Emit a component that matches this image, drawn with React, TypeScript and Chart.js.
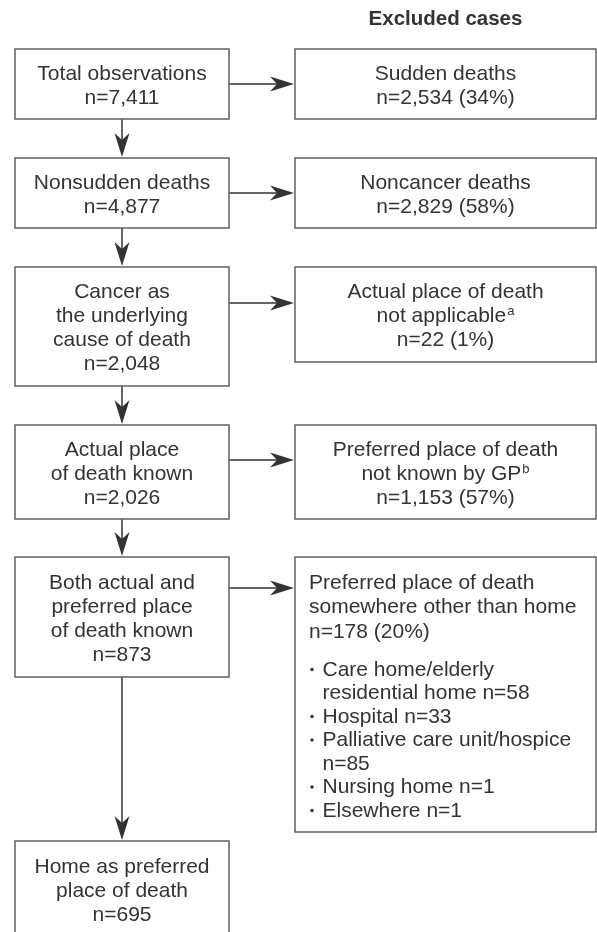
import React, { useEffect, useRef } from "react";
import { Chart, registerables } from "chart.js";

Chart.register(...registerables);

// ---------- data ----------
const columnTitle = "Excluded cases";
const includedLabels = [
  "Total observations",
  "Nonsudden deaths",
  "Cancer as\nthe underlying\ncause of death",
  "Actual place\nof death known",
  "Both actual and\npreferred place\nof death known",
  "Home as preferred\nplace of death",
];
const includedCounts = [7411, 4877, 2048, 2026, 873, 695];
const excludedLabels = [
  "Sudden deaths",
  "Noncancer deaths",
  "Actual place of death\nnot applicable^a",
  "Preferred place of death\nnot known by GP^b",
  "Preferred place of death\nsomewhere other than home",
];
const excludedCounts = [2534, 2829, 22, 1153, 178];
const excludedPercents = [34, 58, 1, 57, 20];
const otherPlaceLabels = [
  "Care home/elderly\nresidential home",
  "Hospital",
  "Palliative care unit/hospice\n",
  "Nursing home",
  "Elsewhere",
];
const otherPlaceCounts = [58, 33, 85, 1, 1];

// ---------- layout (scale units) ----------
const W = 597;
const H = 932;
const LEFT_X = [15, 229];
const RIGHT_X = [295, 596];
const LEFT_ROWS = [
  [49, 119],
  [158, 228],
  [267, 386],
  [425, 519],
  [557, 677],
  [841, 990],
];
const RIGHT_ROWS = [
  [49, 119],
  [158, 228],
  [267, 362],
  [425, 519],
  [557, 832],
];
const ARROW_Y = [84, 193, 303, 460, 588];

const FONT = '"Liberation Sans", Arial, Helvetica, sans-serif';
const FS = 21;
const LH = 24;
const TEXT = "#333333";
const BORDER = "#555555";
const LINE = "#666666";
const HEAD = "#333333";

const fmt = (n: number) => n.toLocaleString("en-US");

function drawRichLine(ctx: CanvasRenderingContext2D, text: string, x: number, baseline: number, align: "center" | "left") {
  const [main, sup] = text.split("^");
  ctx.font = `${FS}px ${FONT}`;
  const mw = ctx.measureText(main).width;
  let sw = 0;
  if (sup) {
    ctx.font = `${Math.round(FS * 0.6)}px ${FONT}`;
    sw = ctx.measureText(sup).width + 1;
  }
  const start = align === "center" ? x - (mw + sw) / 2 : x;
  ctx.textAlign = "left";
  ctx.textBaseline = "alphabetic";
  ctx.fillStyle = TEXT;
  ctx.font = `${FS}px ${FONT}`;
  ctx.fillText(main, start, baseline);
  if (sup) {
    ctx.font = `${Math.round(FS * 0.6)}px ${FONT}`;
    ctx.fillText(sup, start + mw + 1, baseline - 7);
  }
}

function arrowHead(ctx: CanvasRenderingContext2D, tx: number, ty: number, dx: number, dy: number) {
  const L = 24, Wd = 7.5, N = 17;
  const nx = -dy, ny = dx;
  ctx.beginPath();
  ctx.moveTo(tx, ty);
  ctx.lineTo(tx - dx * L + nx * Wd, ty - dy * L + ny * Wd);
  ctx.lineTo(tx - dx * N, ty - dy * N);
  ctx.lineTo(tx - dx * L - nx * Wd, ty - dy * L - ny * Wd);
  ctx.closePath();
  ctx.fillStyle = HEAD;
  ctx.fill();
}

const flowPlugin = {
  id: "flow",
  afterDraw(chart: any) {
    const ctx: CanvasRenderingContext2D = chart.ctx;
    const xs = chart.scales.x;
    const ys = chart.scales.y;
    const px = (v: number) => xs.getPixelForValue(v);
    const py = (v: number) => ys.getPixelForValue(v);
    ctx.save();

    // title
    ctx.fillStyle = TEXT;
    ctx.font = `bold 20.5px ${FONT}`;
    ctx.textAlign = "center";
    ctx.textBaseline = "alphabetic";
    ctx.fillText(columnTitle, px((RIGHT_X[0] + RIGHT_X[1]) / 2), py(17.5) + 7.5);

    const lcx = (LEFT_X[0] + LEFT_X[1]) / 2;
    const rcx = (RIGHT_X[0] + RIGHT_X[1]) / 2;

    // left boxes
    includedLabels.forEach((lab, i) => {
      const [t, b] = LEFT_ROWS[i];
      ctx.strokeStyle = BORDER;
      ctx.lineWidth = 1.4;
      ctx.strokeRect(px(LEFT_X[0]), py(t), px(LEFT_X[1]) - px(LEFT_X[0]), py(b) - py(t));
      const lines = [...lab.split("\n"), "n=" + fmt(includedCounts[i])];
      const boxBottom = i === LEFT_ROWS.length - 1 ? t + 96 : b;
      const cy = (t + boxBottom) / 2;
      const y0 = cy - ((lines.length - 1) * LH) / 2;
      lines.forEach((ln, k) => drawRichLine(ctx, ln, px(lcx), py(y0 + k * LH) + 7.5, "center"));
    });

    // right boxes
    excludedLabels.forEach((lab, i) => {
      const [t, b] = RIGHT_ROWS[i];
      ctx.strokeStyle = BORDER;
      ctx.lineWidth = 1.4;
      ctx.strokeRect(px(RIGHT_X[0]), py(t), px(RIGHT_X[1]) - px(RIGHT_X[0]), py(b) - py(t));
      const countLine = "n=" + fmt(excludedCounts[i]) + " (" + excludedPercents[i] + "%)";
      const lines = [...lab.split("\n"), countLine];
      if (i < excludedLabels.length - 1) {
        const cy = (t + b) / 2;
        const y0 = cy - ((lines.length - 1) * LH) / 2;
        lines.forEach((ln, k) => drawRichLine(ctx, ln, px(rcx), py(y0 + k * LH) + 7.5, "center"));
      } else {
        const x0 = 309;
        lines.forEach((ln, k) => drawRichLine(ctx, ln, px(x0), py(t + 24 + k * 24.5) + 7.5, "left"));
        let yy = t + 111;
        otherPlaceLabels.forEach((pl, j) => {
          const parts = pl.split("\n");
          const last = parts[parts.length - 1];
          parts[parts.length - 1] = (last ? last + " " : "") + "n=" + fmt(otherPlaceCounts[j]);
          ctx.beginPath();
          ctx.arc(px(312), py(yy + 1.5), 1.7, 0, Math.PI * 2);
          ctx.fillStyle = TEXT;
          ctx.fill();
          parts.forEach((p) => {
            drawRichLine(ctx, p, px(322.5), py(yy) + 7.5, "left");
            yy += 23.5;
          });
        });
      }
    });

    // vertical arrows
    ctx.strokeStyle = LINE;
    ctx.lineWidth = 2;
    for (let i = 0; i < LEFT_ROWS.length - 1; i++) {
      const y1 = LEFT_ROWS[i][1];
      const y2 = LEFT_ROWS[i + 1][0];
      ctx.strokeStyle = LINE;
      ctx.lineWidth = 2;
      ctx.beginPath();
      ctx.moveTo(px(lcx), py(y1));
      ctx.lineTo(px(lcx), py(y2) - 18);
      ctx.stroke();
      arrowHead(ctx, px(lcx), py(y2) - 1, 0, 1);
    }
    // horizontal arrows
    ARROW_Y.forEach((ay) => {
      ctx.strokeStyle = LINE;
      ctx.lineWidth = 2;
      ctx.beginPath();
      ctx.moveTo(px(LEFT_X[1]), py(ay));
      ctx.lineTo(px(RIGHT_X[0]) - 18, py(ay));
      ctx.stroke();
      arrowHead(ctx, px(RIGHT_X[0]) - 1, py(ay), 1, 0);
    });

    ctx.restore();
  },
};

export default function App() {
  const ref = useRef<HTMLCanvasElement | null>(null);
  useEffect(() => {
    document.body.style.margin = "0";
    document.body.style.background = "#ffffff";
    const canvas = ref.current;
    if (!canvas) return;
    const chart = new Chart(canvas, {
      type: "scatter",
      data: { datasets: [{ data: [], pointRadius: 0 }] },
      options: {
        responsive: false,
        animation: false,
        devicePixelRatio: 1,
        events: [],
        layout: { padding: 0 },
        plugins: { legend: { display: false }, tooltip: { enabled: false } },
        scales: {
          x: { type: "linear", min: 0, max: W, display: false },
          y: { type: "linear", min: 0, max: H, reverse: true, display: false },
        },
      },
      plugins: [flowPlugin],
    });
    return () => chart.destroy();
  }, []);
  return (
    <div style={{ width: W, height: H, background: "#fff", overflow: "hidden" }}>
      <canvas ref={ref} width={W} height={H} style={{ display: "block", width: W, height: H }} />
    </div>
  );
}
